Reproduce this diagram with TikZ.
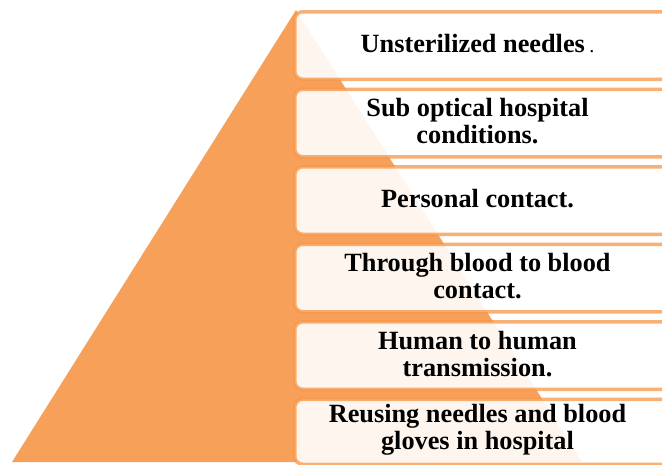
\documentclass[tikz,border=0pt]{standalone}
\usepackage{fontspec}
\setmainfont{Liberation Serif}
\definecolor{pyr}{HTML}{F7A05A}
\definecolor{edge}{HTML}{F79646}
\begin{document}
\begin{tikzpicture}[x=1pt,y=-1pt,
  layer/.style={draw=edge, draw opacity=0.75, line width=3.5pt,
    fill=white, fill opacity=0.9, rounded corners=8pt,
    minimum width=385pt, minimum height=67.5pt, inner sep=0pt,
    anchor=north west},
  caption/.style={align=center, font=\bfseries\fontsize{26.3}{26.5}\selectfont,
    inner sep=0pt}]
\useasboundingbox (0,0) rectangle (662,464);
\begin{scope}
\clip (0,0) rectangle (662,464);
% pyramid behind the layers
\fill[pyr] (296,10) coordinate (apex) -- (12,462) coordinate (bl) -- (582,462) coordinate (br) -- cycle;
% layer boxes
\node[layer] (b1) at (293,10) {};
\node[layer] (b2) at (293,87.5) {};
\node[layer] (b3) at (293,165) {};
\node[layer] (b4) at (293,242.5) {};
\node[layer] (b5) at (293,320) {};
\node[layer, minimum height=65pt] (b6) at (293,397.5) {};
\end{scope}
% layer captions
\node[caption] (t1) at (477.5,44) {Unsterilized needles\,{\mdseries\fontsize{20}{20}\selectfont.}};
\node[caption] (t2) at (477.5,121) {Sub optical hospital\\conditions.};
\node[caption] (t3) at (477.5,199) {Personal contact.};
\node[caption] (t4) at (477.5,276) {Through blood to blood\\contact.};
\node[caption] (t5) at (477.5,354) {Human to human\\transmission.};
\node[caption] (t6) at (477.5,430) {Reusing needles and blood\\gloves in hospital};
\end{tikzpicture}
\end{document}
